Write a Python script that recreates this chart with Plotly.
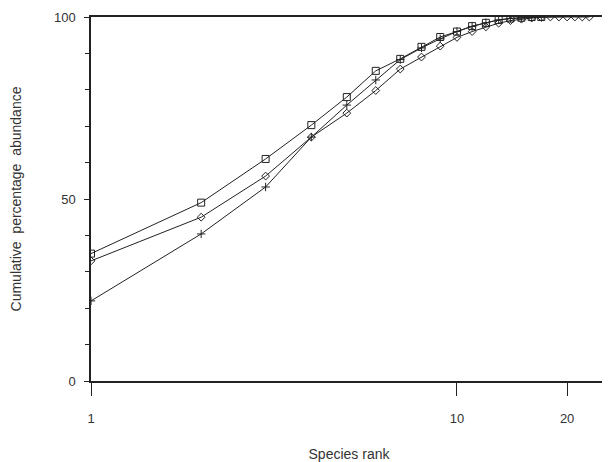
import plotly.graph_objects as go

# Species rank (x) and cumulative percentage abundance (y) for three samples
ranks_sq = list(range(1, 18))
cum_sq = [35, 49, 61, 70.3, 78, 85.2, 88.5, 91.8, 94.5, 96.0, 97.5, 98.4, 99.2, 99.6, 99.8, 100, 100]

ranks_cross = list(range(1, 18))
cum_cross = [22, 40.4, 53.3, 67, 75.8, 82.7, 88.3, 91.5, 94.0, 96.0, 97.4, 98.4, 99.2, 99.6, 99.8, 100, 100]

ranks_dia = list(range(1, 24))
cum_dia = [33, 45, 56.3, 67, 73.6, 79.8, 85.7, 89.0, 92.0, 94.4, 96.0, 97.3, 98.3, 99.0, 99.4, 99.7, 99.9,
           100, 100, 100, 100, 100, 100]

x_tickvals = [1, 10, 20]
x_ticktext = ["1", "10", "20"]
y_tickvals = [0, 50, 100]
y_ticktext = ["0", "50", "100"]

FONT = "Liberation Sans, Arial, sans-serif"
ink = "#222"

fig = go.Figure()
fig.add_trace(go.Scatter(x=ranks_sq, y=cum_sq, mode="lines+markers",
                         line=dict(color=ink, width=1),
                         marker=dict(symbol="square-open", size=7, color=ink, line=dict(width=1))))
fig.add_trace(go.Scatter(x=ranks_cross, y=cum_cross, mode="lines+markers",
                         line=dict(color=ink, width=1),
                         marker=dict(symbol="cross-thin-open", size=6, color=ink, line=dict(width=1, color=ink))))
fig.add_trace(go.Scatter(x=ranks_dia, y=cum_dia, mode="lines+markers",
                         line=dict(color=ink, width=1),
                         marker=dict(symbol="diamond-open", size=6, color=ink, line=dict(width=1))))

# The page body has an 8px default margin, so the figure is sized/offset to compensate.
fig.update_layout(
    width=602, height=454,
    margin=dict(l=83, r=3, t=9, b=81),
    paper_bgcolor="white", plot_bgcolor="white",
    showlegend=False,
    font=dict(family=FONT, size=13, color="#333"),
)
fig.update_xaxes(
    type="log", range=[0, 1.41], automargin=False,
    tickvals=x_tickvals, ticktext=x_ticktext,
    ticks="outside", ticklen=13, tickwidth=1, tickcolor=ink,
    showline=True, linecolor=ink, linewidth=1.5, mirror=True,
    showgrid=False, zeroline=False,
    ticklabelstandoff=12,
    title=dict(text="Species rank", font=dict(size=14, family=FONT, color="#333"), standoff=24),
)
fig.update_yaxes(
    range=[0, 100], automargin=False,
    tickvals=y_tickvals, ticktext=y_ticktext,
    ticks="outside", ticklen=5, tickwidth=1, tickcolor=ink,
    minor=dict(dtick=10, ticks="outside", ticklen=4, tickcolor=ink, showgrid=False),
    showline=True, linecolor=ink, linewidth=1.5, mirror=True,
    showgrid=False, zeroline=False,
    ticklabelstandoff=6,
    title=dict(text="Cumulative  percentage  abundance", font=dict(size=14, family=FONT, color="#333"), standoff=38),
)

fig.write_html("out.html")
